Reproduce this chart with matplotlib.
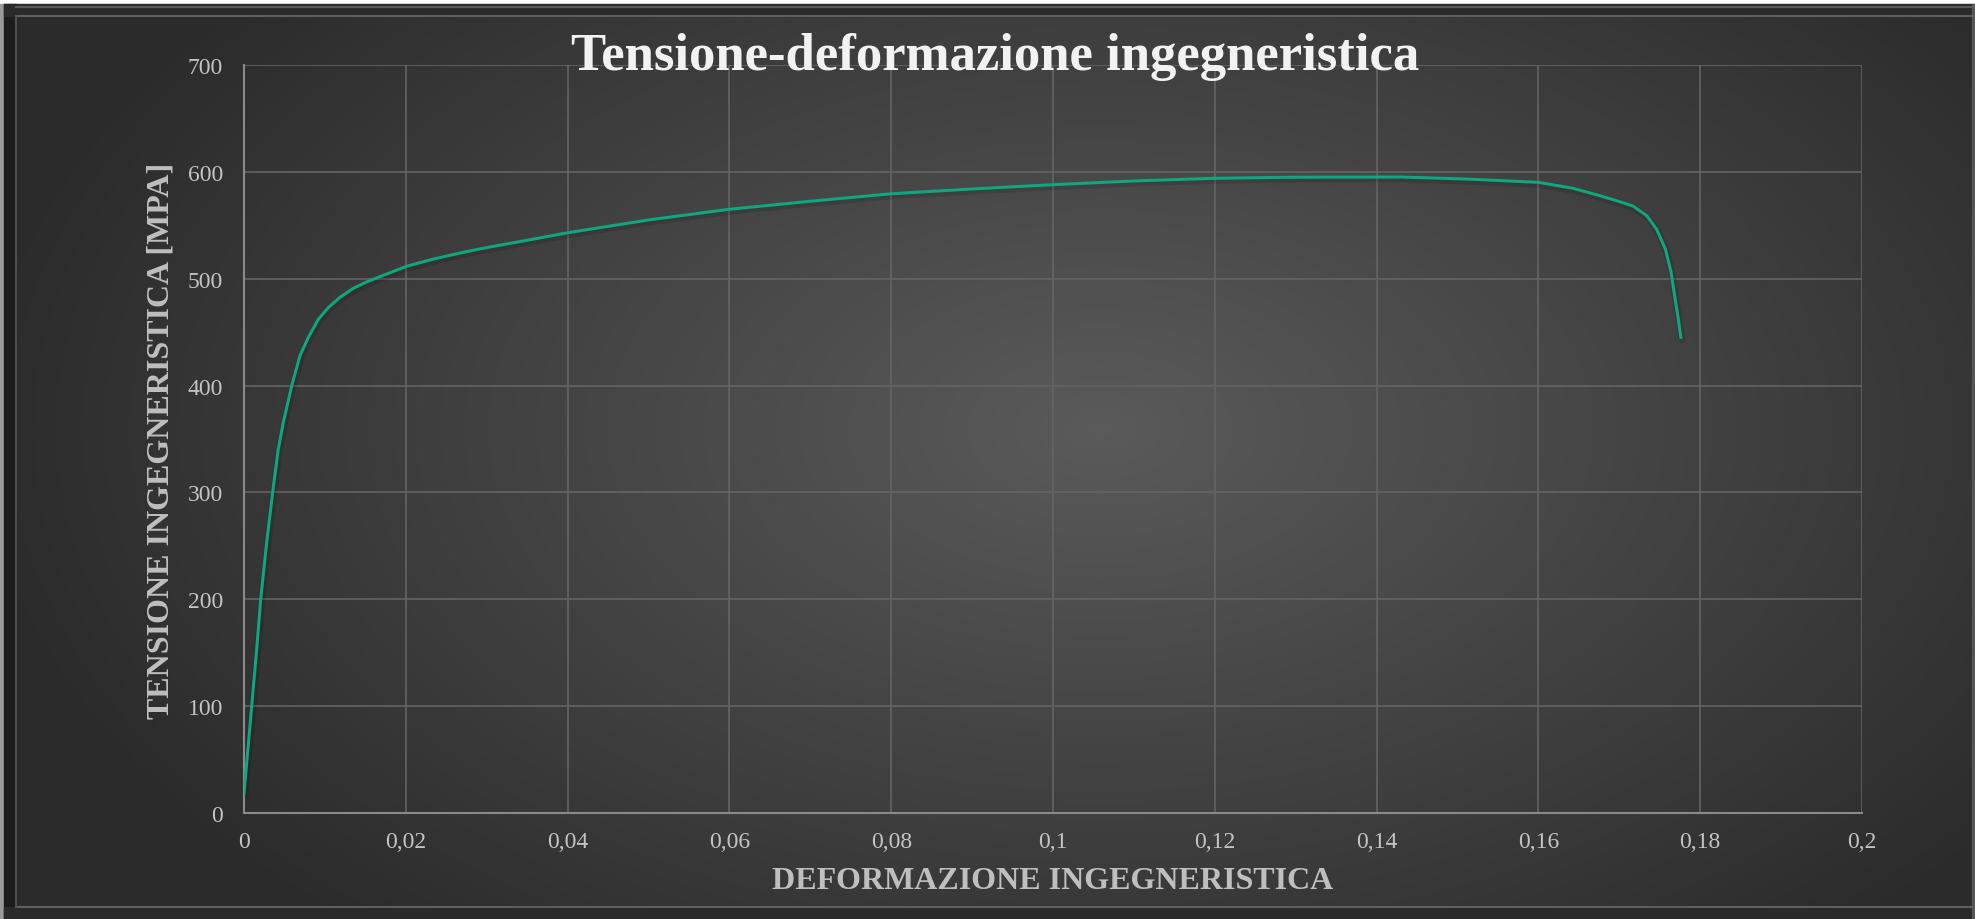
import numpy as np
import matplotlib
matplotlib.use("Agg")
import matplotlib.pyplot as plt
import matplotlib.transforms as mtransforms
from matplotlib.patches import Rectangle
from matplotlib.ticker import FuncFormatter

# engineering strain / stress
strain = [0.0, 0.00103, 0.00157, 0.00206, 0.0028, 0.00354, 0.00424, 0.00486, 0.0059,
          0.00692, 0.00795, 0.00919, 0.01042, 0.01187, 0.01351, 0.01516, 0.01764,
          0.0201, 0.0234, 0.0267, 0.0292, 0.035, 0.04, 0.05, 0.06, 0.07, 0.08,
          0.09, 0.10, 0.11, 0.12, 0.13, 0.1429, 0.1511, 0.16, 0.1643, 0.1676,
          0.1701, 0.1717, 0.1734, 0.1746, 0.1757, 0.1764, 0.1769, 0.1773, 0.1776]
stress = [18, 107, 153.5, 200, 253, 300, 340.6, 365.6, 400,
          428, 445, 462, 473, 482.6, 491, 497, 504.4,
          511.6, 518.4, 524, 528, 536, 543, 555, 565, 572.5, 579.5,
          584, 588, 591.5, 594, 595, 595.2, 593.3, 590.2, 584.6, 577.7,
          572, 568, 559, 546.5, 527.8, 506, 481, 462, 445]

x_ticks = [0, 0.02, 0.04, 0.06, 0.08, 0.1, 0.12, 0.14, 0.16, 0.18, 0.2]
y_ticks = [0, 100, 200, 300, 400, 500, 600, 700]

title = "Tensione-deformazione ingegneristica"
xlabel = "DEFORMAZIONE INGEGNERISTICA"
ylabel = "TENSIONE INGEGNERISTICA [MPA]"

W, H = 1975, 920
fig = plt.figure(figsize=(W / 100, H / 100), dpi=100)
fig.patch.set_facecolor("white")

# background: radial grey gradient + bevelled frame
bg = fig.add_axes([0, 0, 1, 1], zorder=0)
yy, xx = np.mgrid[0:H, 0:W]
r = np.sqrt(((xx - 1100) / 1100.0) ** 2 + ((yy - 430) / 650.0) ** 2)
shade = np.clip(0.355 - 0.18 * r, 0.17, 0.36)
bg.imshow(np.dstack([shade] * 3), extent=(0, W, H, 0), aspect="auto")
bg.set_xlim(0, W)
bg.set_ylim(H, 0)
bg.axis("off")
bg.add_patch(Rectangle((0, 0), W, 5, color="white"))
bg.add_patch(Rectangle((0, 5), 4, H, color="#9a9a9a"))
bg.add_patch(Rectangle((4, 5), 12, H, color="#1c1c1c"))
bg.add_patch(Rectangle((4, 5), W, 12, color="#2a2a2a"))
bg.add_patch(Rectangle((4, H - 12), W, 12, color="#2a2a2a"))
bg.add_patch(Rectangle((W - 3, 5), 3, H, color="#555555"))
bg.plot([16, W], [8, 8], color="#5a5a5a", lw=1.5)
bg.plot([16, W], [17, 17], color="#5f5f5f", lw=1.5)
bg.plot([16, W], [H - 12, H - 12], color="#5f5f5f", lw=1.5)
bg.plot([16, 16], [17, H - 12], color="#505050", lw=1.5)

ax = fig.add_axes([244 / W, 1 - 814 / H, (1862 - 244) / W, (814 - 66) / H], zorder=1)
ax.patch.set_alpha(0)

# soft shadow under the line, then the line itself
shadow = ax.transData + mtransforms.ScaledTranslation(1 / 100, -2 / 100, fig.dpi_scale_trans)
ax.plot(strain, stress, color="black", lw=5, alpha=0.12, zorder=2,
        solid_capstyle="round", solid_joinstyle="round", transform=shadow)
ax.plot(strain, stress, color="#10a67e", lw=2.2, zorder=3, solid_joinstyle="round")

ax.set_xlim(0, 0.2)
ax.set_ylim(0, 700)
ax.set_xticks(x_ticks)
ax.set_yticks(y_ticks)
ax.xaxis.set_major_formatter(FuncFormatter(lambda v, p: ("%g" % v).replace(".", ",")))
ax.grid(True, color="#646464", lw=1.2)
ax.set_axisbelow(True)
for s in ["top", "right"]:
    ax.spines[s].set_visible(False)
for s in ["left", "bottom"]:
    ax.spines[s].set_color("#8a8a8a")
    ax.spines[s].set_linewidth(1.5)
ax.tick_params(length=0, labelcolor="#c4c4c4", labelsize=17)
ax.tick_params(axis="y", pad=15)
ax.tick_params(axis="x", pad=13)
for lab in ax.get_xticklabels() + ax.get_yticklabels():
    lab.set_family("Liberation Serif")

fig.text(995 / W, 1 - 57 / H, title, ha="center", va="center", family="Liberation Serif",
         fontweight="bold", fontsize=38, color="#f2f2f2")
fig.text(1053 / W, 1 - 882 / H, xlabel, ha="center", va="center", family="Liberation Serif",
         fontweight="bold", fontsize=23, color="#bfbfbf")
fig.text(161 / W, 1 - 441 / H, ylabel, ha="center", va="center", rotation=90,
         family="Liberation Serif", fontweight="bold", fontsize=23, color="#bfbfbf")

fig.savefig("out.png", dpi=100)
